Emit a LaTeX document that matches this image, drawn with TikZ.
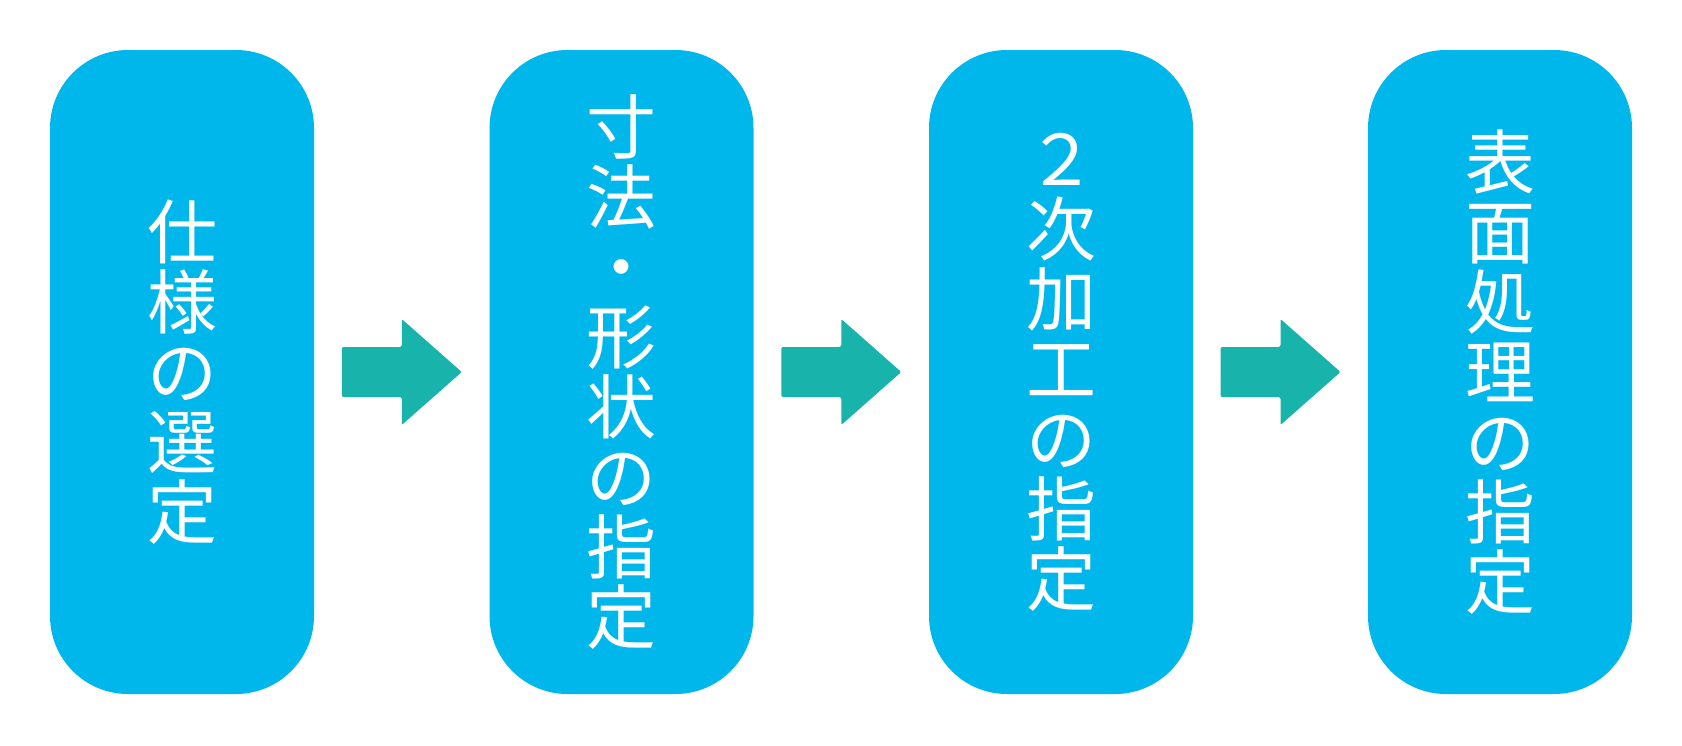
\documentclass[tikz,border=0pt]{standalone}
\usepackage{fontspec}
\newfontfamily\jpfont{Noto Sans CJK JP}
\usetikzlibrary{calc}
\definecolor{stepcyan}{RGB}{0,183,236}
\definecolor{arrowteal}{RGB}{24,180,172}
\begin{document}
\begin{tikzpicture}[x=1pt,y=-1pt,
		stepbox/.style={fill=stepcyan,rounded corners=78pt,minimum width=264pt,
			minimum height=644pt,inner sep=0pt,align=center,text=white,
			font=\jpfont\fontsize{70pt}{70pt}\selectfont},
		flowarrow/.style={fill=arrowteal,rounded corners=2pt}]
	\useasboundingbox (0,0) rectangle (1682,745);
	\node[stepbox] (spec) at (182,372) {仕\\様\\の\\選\\定};
	\node[stepbox] (dims) at (621.5,372) {寸\\法\\・\\形\\状\\の\\指\\定};
	\node[stepbox] (second) at (1061,372) {２\\次\\加\\工\\の\\指\\定};
	\node[stepbox] (surface) at (1500,372) {表\\面\\処\\理\\の\\指\\定};
	\foreach \a/\b in {spec/dims,dims/second,second/surface}
		\fill[flowarrow] ($(\a.east)!.5!(\b.west)+(-60,-25)$) -- ++(60,0) -- ++(0,-28)
			-- ++(60,53) -- ++(-60,53) -- ++(0,-28) -- ++(-60,0) -- cycle;
\end{tikzpicture}
\end{document}
